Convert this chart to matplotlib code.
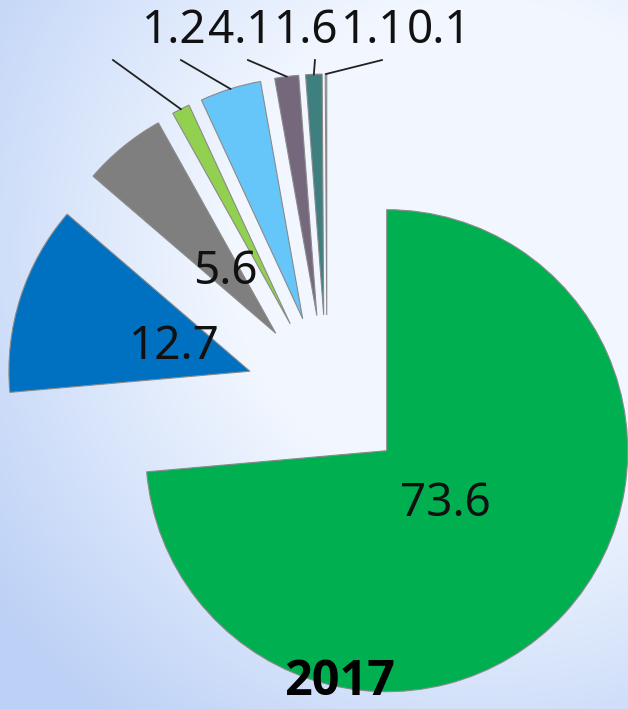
import numpy as np
import matplotlib
matplotlib.use("Agg")
import matplotlib.pyplot as plt

# data
values = [73.6, 12.7, 5.6, 1.2, 4.1, 1.6, 1.1, 0.1]
value_labels = ["73.6", "12.7", "5.6", "1.2", "4.1", "1.6", "1.1", "0.1"]
colors = ["#00B050", "#0070C0", "#7F7F7F", "#92D050", "#66C6FA", "#76687C", "#3E7F80", "#A9BFD8"]
title = "2017"

# label spots for the thin wedges (data units, pie radius = 1)
outside_pos = {3: (-0.635, 1.515), 4: (-0.361, 1.515), 5: (-0.087, 1.515),
               6: (0.191, 1.515), 7: (0.465, 1.515)}
leader_start = {3: (-0.888, 1.394), 4: (-0.606, 1.394), 5: (-0.328, 1.394),
                6: (-0.050, 1.394), 7: (0.228, 1.394)}

W, H = 628, 709
scale = 241.0   # pixels per pie radius
cx, cy = 327, 396

fig = plt.figure(figsize=(W / 100, H / 100), dpi=100)
ax = fig.add_axes([0, 0, 1, 1])

x0 = -cx / scale
x1 = (W - cx) / scale
y0 = -(H - cy) / scale
y1 = cy / scale

# background gradient
yy, xx = np.mgrid[0:H, 0:W]
d = np.sqrt((xx - 480.0) ** 2 + (yy - 250.0) ** 2)
t = np.clip((d - 250) / 350, 0, 1)[..., None]
c_blue = np.array([0.74, 0.82, 0.965])
c_white = np.array([0.95, 0.97, 1.0])
bg = c_white * (1 - t) + c_blue * t
ax.imshow(bg, extent=[x0, x1, y0, y1], aspect="auto", zorder=0)

explode = [0.336] * len(values)
wedges, _ = ax.pie(values, colors=colors, explode=explode, startangle=90,
                   counterclock=False, radius=1.0,
                   wedgeprops=dict(edgecolor="#8a8a8a", linewidth=0.8))
for w in wedges:
    w.set_zorder(2)

font = ["Noto Sans", "DejaVu Sans"]
for i, w in enumerate(wedges):
    mid = np.deg2rad((w.theta1 + w.theta2) / 2)
    wx, wy = w.center
    if i in outside_pos:
        lx, ly = outside_pos[i]
        ax.text(lx, ly, value_labels[i], ha="center", va="center",
                fontsize=33, family=font, color="#111111", zorder=4)
        ex = wx + w.r * np.cos(mid)
        ey = wy + w.r * np.sin(mid)
        sx, sy = leader_start[i]
        ax.plot([sx, ex], [sy, ey], color="#222222", lw=1.3, zorder=3)
    else:
        tx = wx + 0.33 * w.r * np.cos(mid)
        ty = wy + 0.33 * w.r * np.sin(mid)
        ax.text(tx, ty, value_labels[i], ha="center", va="center",
                fontsize=33, family=font, color="#111111", zorder=4)

ax.text((340 - cx) / scale, -(707 - cy) / scale, title, ha="center", va="bottom",
        fontsize=35, fontweight="bold", family=["Open Sans", "DejaVu Sans"],
        color="black", zorder=5)

ax.set_xlim(x0, x1)
ax.set_ylim(y0, y1)
ax.set_aspect("auto")
ax.axis("off")

fig.savefig("out.png", dpi=100)
